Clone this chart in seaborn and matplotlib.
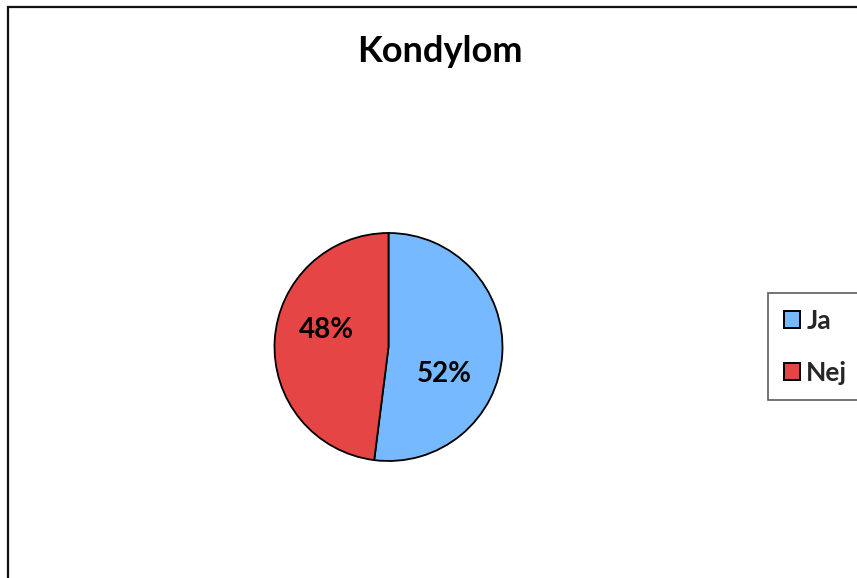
import matplotlib
matplotlib.use("Agg")
import matplotlib.pyplot as plt
from matplotlib.patches import Patch, Rectangle
import seaborn as sns

# Data
categories = ["Ja", "Nej"]
shares = [52, 48]
colors = ["#76B9FE", "#E64545"]
title = "Kondylom"

sns.set_theme(style="white")
plt.rcParams["font.family"] = ["Lato", "DejaVu Sans"]

W, H = 857, 578
fig = plt.figure(figsize=(W / 100, H / 100), dpi=100)
fig.patch.set_facecolor("white")

# Outer chart frame (runs off the right and bottom edges)
frame = Rectangle((8 / W, -0.1), 1.2, 1 - 7 / H + 0.1, transform=fig.transFigure,
                  fill=False, edgecolor="#111111", linewidth=1.6)
fig.patches.append(frame)

# Pie axes: center (388, 347) px, radius 114 px
cx, cy, r = 388.5, 347, 114
ax = fig.add_axes([(cx - r) / W, (H - cy - r) / H, 2 * r / W, 2 * r / H])
wedges, _ = ax.pie(shares, colors=colors, startangle=90, counterclock=False,
                   radius=1.0,
                   wedgeprops=dict(edgecolor="black", linewidth=1.3))
ax.set_xlim(-1.0, 1.0)
ax.set_ylim(-1.0, 1.0)
ax.set_aspect("equal")
ax.axis("off")

# Percentage labels
label_pos = [(0.49, -0.24), (-0.54, 0.15)]
for (x, y), v in zip(label_pos, shares):
    ax.text(x, y, f"{v}%", ha="center", va="center", fontsize=20,
            fontweight="bold", color="black")

fig.text(440 / W, 1 - 52 / H, title, ha="center", va="center",
         fontsize=26, fontweight="bold", color="black")

handles = [Patch(facecolor=c, edgecolor="black", linewidth=1.4) for c in colors]
leg = fig.legend(handles, categories, loc="upper left",
                 bbox_to_anchor=(768 / W, 1 - 293 / H),
                 frameon=True, fancybox=False, edgecolor="#333333",
                 prop=dict(family=["Lato", "DejaVu Sans"], weight="bold", size=19),
                 handlelength=0.6, handleheight=0.6, handletextpad=0.25,
                 labelspacing=1.05, borderpad=0.6, borderaxespad=0)
leg.get_frame().set_linewidth(1.2)

fig.savefig("out.png", dpi=100, facecolor="white")
